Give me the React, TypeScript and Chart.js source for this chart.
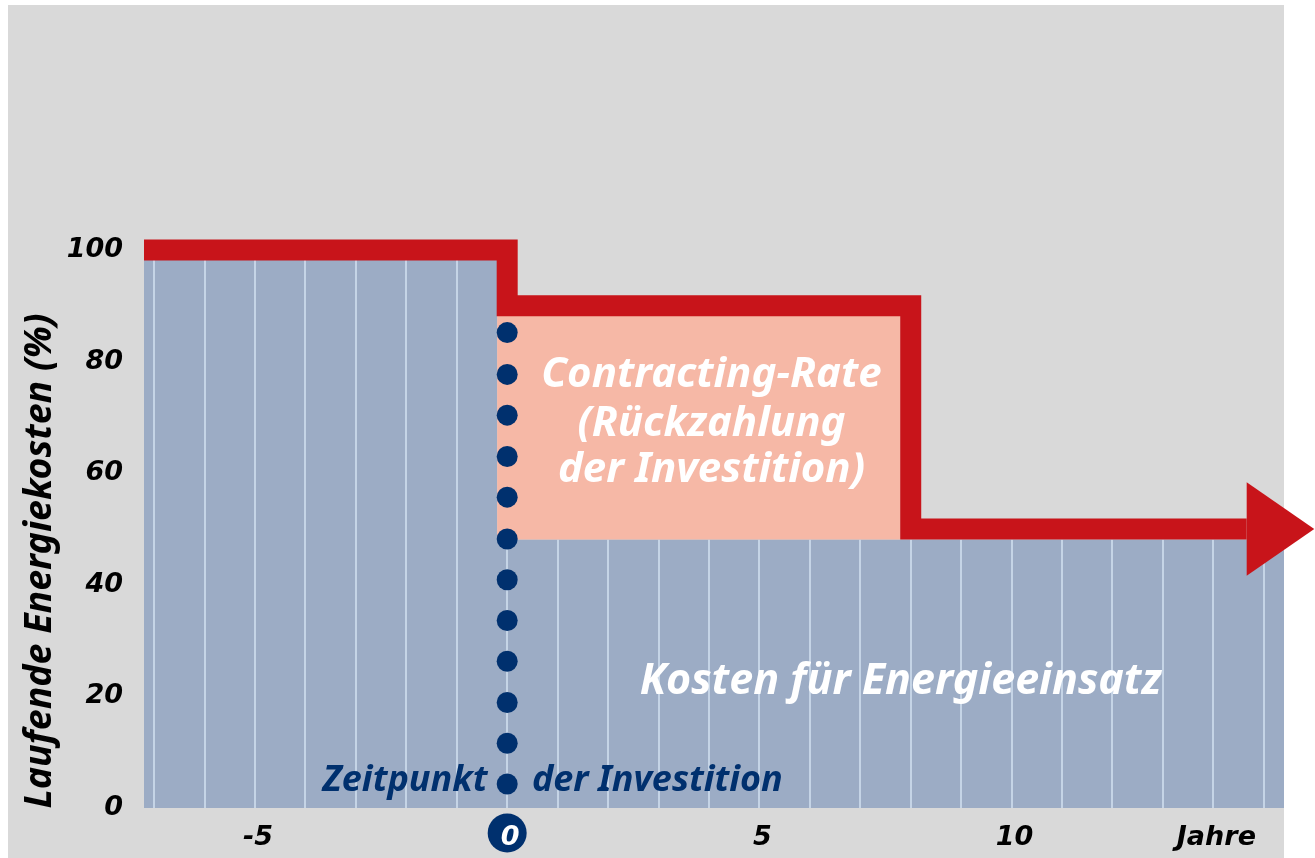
import React, { useEffect, useRef } from "react";
import { Chart, registerables } from "chart.js";

Chart.register(...registerables);

// ---- data ----
const xMin = -7.2;
const xMax = 15.4;
const yTickValues = [0, 20, 40, 60, 80, 100];
const xTickValues = [-5, 0, 5, 10, 14];
const xTickLabels = ["-5", "0", "5", "10", "Jahre"];
const gridYears = [-7, -6, -5, -4, -3, -2, -1, 0, 1, 2, 3, 4, 5, 6, 7, 8, 9, 10, 11, 12, 13, 14, 15];

// red step line: total running energy costs (%)
const redX = [-7.2, 0, 0, 8, 8, 14.66];
const redY = [100, 100, 90, 90, 50, 50];
// arrow head
const arrowBaseX = 14.66;
const arrowTipX = 16;
const arrowY = 50;
const arrowHalf = 8.4;

// blue area: costs for energy
const blueX = [-7.2, -0.2, -0.2, 15.4];
const blueY = [100, 100, 48.1, 48.1];
// pink area: contracting rate
const pinkX = [-0.2, 7.8];
const pinkTop = [90, 90];
const pinkBottom = 48.1;

// dotted line (time of investment)
const dotY = [4.3, 11.6, 18.9, 26.3, 33.6, 40.9, 48.2, 55.7, 63.0, 70.4, 77.7, 85.2];
const dotX = 0;

const FONT = "'Noto Sans', 'Open Sans', sans-serif";
const TICKFONT = "'DejaVu Sans', sans-serif";
const RED = "#c8141a";
const BLUE = "#9cacc5";
const GRID = "#c5d4e6";
const PINK = "#f6b8a6";
const DARK = "#00306e";
const BG = "#d9d9d9";

const zip = (xs: number[], ys: number[]) => xs.map((x, i) => ({ x, y: ys[i] }));

export default function App() {
  const ref = useRef<HTMLCanvasElement | null>(null);

  useEffect(() => {
    if (!ref.current) return;
    const plugin = {
      id: "deco",
      beforeDraw(chart: any) {
        const { ctx, chartArea, scales } = chart;
        ctx.save();
        ctx.fillStyle = BG;
        ctx.fillRect(8, 5, chartArea.right - 8, chart.height - 5);
        // circle behind 0 tick
        const cx = scales.x.getPixelForValue(0);
        ctx.fillStyle = DARK;
        ctx.beginPath();
        ctx.arc(cx, chartArea.bottom + 25, 19.5, 0, Math.PI * 2);
        ctx.fill();
        ctx.restore();
      },
      afterDatasetDraw(chart: any, args: any) {
        if (args.index !== 3) return;
        const { ctx, scales } = chart;
        const xs = scales.x;
        const ys = scales.y;
        ctx.save();
        ctx.strokeStyle = GRID;
        ctx.lineWidth = 2;
        for (const g of gridYears) {
          const top = g < blueX[1] ? blueY[0] : blueY[3];
          const px = Math.round(xs.getPixelForValue(g));
          ctx.beginPath();
          ctx.moveTo(px, ys.getPixelForValue(0));
          ctx.lineTo(px, ys.getPixelForValue(top));
          ctx.stroke();
        }
        ctx.restore();
      },
      afterDatasetsDraw(chart: any) {
        const { ctx, scales } = chart;
        const xs = scales.x;
        const ys = scales.y;
        ctx.save();
        // arrow head
        ctx.fillStyle = RED;
        ctx.beginPath();
        ctx.moveTo(xs.getPixelForValue(arrowBaseX), ys.getPixelForValue(arrowY + arrowHalf));
        ctx.lineTo(xs.getPixelForValue(arrowTipX), ys.getPixelForValue(arrowY));
        ctx.lineTo(xs.getPixelForValue(arrowBaseX), ys.getPixelForValue(arrowY - arrowHalf));
        ctx.closePath();
        ctx.fill();
        // annotations
        ctx.textBaseline = "middle";
        ctx.fillStyle = "#ffffff";
        ctx.textAlign = "center";
        ctx.font = `italic bold 42px ${FONT}`;
        const cx = xs.getPixelForValue(4.05);
        ctx.fillText("Contracting-Rate", cx, ys.getPixelForValue(77.6));
        ctx.fillText("(Rückzahlung", cx, ys.getPixelForValue(68.9));
        ctx.fillText("der Investition)", cx, ys.getPixelForValue(60.5));
        ctx.font = `italic bold 43px ${FONT}`;
        ctx.fillText("Kosten für Energieeinsatz", xs.getPixelForValue(7.8), ys.getPixelForValue(22.6));
        ctx.fillStyle = DARK;
        ctx.font = `italic bold 36px ${FONT}`;
        ctx.textAlign = "right";
        ctx.fillText("Zeitpunkt", xs.getPixelForValue(-0.39), ys.getPixelForValue(4.8));
        ctx.textAlign = "left";
        ctx.fillText("der Investition", xs.getPixelForValue(0.49), ys.getPixelForValue(4.8));
        // y title
        ctx.fillStyle = "#000000";
        ctx.font = `italic bold 37.5px ${FONT}`;
        ctx.textAlign = "center";
        ctx.translate(40, 561);
        ctx.rotate(-Math.PI / 2);
        ctx.fillText("Laufende Energiekosten (%)", 0, 0);
        ctx.restore();
      },
    };

    const chart = new Chart(ref.current, {
      type: "line",
      data: {
        datasets: [
          {
            data: zip(redX, redY),
            borderColor: RED,
            borderWidth: 21,
            borderJoinStyle: "miter",
            borderCapStyle: "butt",
            pointRadius: 0,
            fill: false,
            clip: false,
          } as any,
          {
            data: dotY.map((y) => ({ x: dotX, y })),
            showLine: false,
            pointRadius: 10.5,
            pointBackgroundColor: DARK,
            pointBorderWidth: 0,
            clip: false,
          } as any,
          {
            data: zip(pinkX, pinkTop),
            borderWidth: 0,
            pointRadius: 0,
            backgroundColor: PINK,
            fill: { value: pinkBottom },
          } as any,
          {
            data: zip(blueX, blueY),
            borderWidth: 0,
            pointRadius: 0,
            backgroundColor: BLUE,
            fill: "origin",
          } as any,
        ],
      },
      options: {
        animation: false,
        responsive: false,
        layout: { padding: { left: 0, top: 250, right: 31, bottom: 0 } },
        plugins: { legend: { display: false }, tooltip: { enabled: false } },
        scales: {
          x: {
            type: "linear",
            min: xMin,
            max: xMax,
            grid: { display: false },
            border: { display: false },
            afterFit: (s: any) => {
              s.height = 50;
            },
            afterBuildTicks: (s: any) => {
              s.ticks = xTickValues.map((v) => ({ value: v }));
            },
            ticks: {
              padding: 6,
              labelOffset: 3,
              maxRotation: 0,
              autoSkip: false,
              font: { family: TICKFONT, size: 27, weight: "bold", style: "italic" },
              color: (c: any) => (c.tick && c.tick.value === 0 ? "#ffffff" : "#000000"),
              callback: (v: any) => {
                const i = xTickValues.indexOf(Number(v));
                return i >= 0 ? xTickLabels[i] : "";
              },
            },
          },
          y: {
            min: 0,
            max: 100,
            grid: { display: false },
            border: { display: false },
            afterFit: (s: any) => {
              s.width = 144;
            },
            afterBuildTicks: (s: any) => {
              s.ticks = yTickValues.map((v) => ({ value: v }));
            },
            ticks: {
              padding: 13,
              color: "#000000",
              font: { family: TICKFONT, size: 27, weight: "bold", style: "italic" },
            },
          },
        },
      } as any,
      plugins: [plugin],
    });
    return () => chart.destroy();
  }, []);

  return (
    <div style={{ position: "absolute", left: 0, top: 0, width: 1315, height: 858 }}>
      <canvas ref={ref} width={1315} height={858} />
    </div>
  );
}
